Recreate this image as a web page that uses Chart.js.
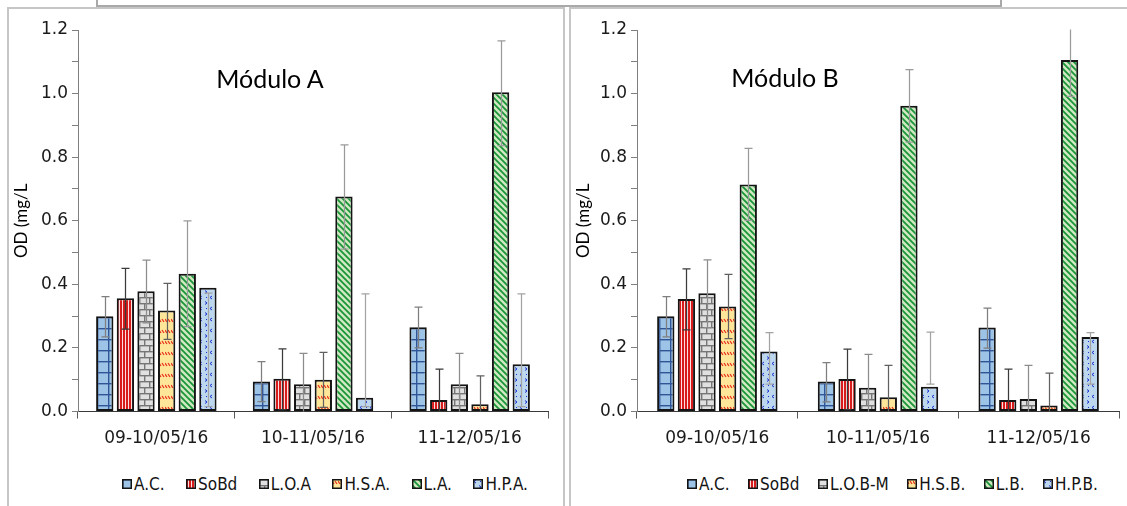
<!DOCTYPE html>
<html>
<head>
<meta charset="utf-8">
<script src="https://cdn.jsdelivr.net/npm/chart.js@4"></script>
<style>
  body { margin: 0; background: #fff; width: 1127px; height: 506px; overflow: hidden; position: relative; }
  .frame { position: absolute; border: 2px solid #c6c6c6; box-sizing: border-box; }
  canvas { position: absolute; }
  .title { position: absolute; font-family: Lato, "Open Sans", sans-serif; font-size: 25px; color: #000; line-height: 1; transform: translate(-50%, -50%); white-space: nowrap; }
  .legend { position: absolute; display: flex; justify-content: space-between; align-items: center; font-family: "DejaVu Sans Condensed", "DejaVu Sans", sans-serif; font-size: 17px; color: #141414; }
  .legend .item { display: flex; align-items: center; }
  .legend canvas { position: static; margin-right: 2px; }
</style>
</head>
<body>
<div class="frame" style="left:96px; top:-6px; width:906px; height:13px; border-color:#a9a9a9;"></div>
<div class="frame" style="left:7px; top:7px; width:558px; height:520px;"></div>
<div class="frame" style="left:569px; top:7px; width:600px; height:520px;"></div>

<canvas id="chartA" width="554" height="442" style="left:9px; top:9px;"></canvas>
<canvas id="chartB" width="556" height="442" style="left:571px; top:9px;"></canvas>

<div class="title" style="left:270px; top:78px;">Módulo A</div>
<div class="title" style="left:785px; top:77px;">Módulo B</div>

<div class="legend" id="legendA" style="left:122px; top:474px; width:406px;"></div>
<div class="legend" id="legendB" style="left:687px; top:474px; width:411px;"></div>

<script>
// sampling dates
const categories = ["09-10/05/16", "10-11/05/16", "11-12/05/16"];
const yTicks = [0, 0.2, 0.4, 0.6, 0.8, 1.0, 1.2];

// Módulo A
const namesA = ["A.C.", "SoBd", "L.O.A", "H.S.A.", "L.A.", "H.P.A."];
const acA   = [0.300, 0.094, 0.265];
const sobdA = [0.356, 0.103, 0.036];
const loA   = [0.378, 0.086, 0.086];
const hsA   = [0.318, 0.100, 0.023];
const laA   = [0.433, 0.676, 1.004];
const hpA   = [0.389, 0.043, 0.149];
const hiA = [
  [0.361, 0.157, 0.328],
  [0.450, 0.197, 0.133],
  [0.476, 0.183, 0.183],
  [0.403, 0.186, 0.112],
  [0.600, 0.839, 1.166],
  [0.372, 0.370, 0.370]
];
const lowA = [
  [0.235, 0.031, 0.200],
  [0.259, 0.006, -0.061],
  [0.279, -0.011, -0.011],
  [0.227, 0.013, -0.066],
  [0.267, 0.511, 0.836],
  [0.015, 0.015, 0.015]
];

// Módulo B
const namesB = ["A.C.", "SoBd", "L.O.B-M", "H.S.B.", "L.B.", "H.P.B."];
const acB   = [0.300, 0.094, 0.264];
const sobdB = [0.354, 0.102, 0.036];
const lobB  = [0.372, 0.075, 0.039];
const hsB   = [0.330, 0.045, 0.019];
const lbB   = [0.714, 0.962, 1.106];
const hpB   = [0.189, 0.078, 0.234];
const hiB = [
  [0.361, 0.154, 0.325],
  [0.449, 0.196, 0.133],
  [0.477, 0.180, 0.145],
  [0.431, 0.145, 0.121],
  [0.828, 1.075, 1.220],
  [0.248, 0.250, 0.248]
];
const lowB = [
  [0.235, 0.030, 0.199],
  [0.257, 0.006, -0.061],
  [0.264, -0.030, -0.067],
  [0.229, -0.055, -0.083],
  [0.601, 0.847, 0.991],
  [0.086, 0.086, 0.086]
];

const errColors = ["#7f7f7f", "#3a3a3a", "#8c8c8c", "#606060", "#9a9a9a", "#a3a3a3"];

// ---- fill patterns ----
function makePattern(w, h, draw) {
  const c = document.createElement("canvas");
  c.width = w; c.height = h;
  const g = c.getContext("2d");
  draw(g, w, h);
  return g.createPattern(c, "repeat");
}

const patterns = [
  // large grid, blue
  makePattern(11, 11, (g, w, h) => {
    g.fillStyle = "#9dc3e6"; g.fillRect(0, 0, w, h);
    g.fillStyle = "#2f5597";
    g.fillRect(0, 0, w, 1.4);
    g.fillRect(0, 0, 1.4, h);
  }),
  // narrow vertical, red
  makePattern(3, 3, (g, w, h) => {
    g.fillStyle = "#d81b1b"; g.fillRect(0, 0, w, h);
    g.fillStyle = "#fcdede"; g.fillRect(2, 0, 1, h);
  }),
  // brick, grey
  makePattern(10, 12, (g, w, h) => {
    g.fillStyle = "#e0e0e0"; g.fillRect(0, 0, w, h);
    g.fillStyle = "#767676";
    g.fillRect(0, 0, w, 1.4);
    g.fillRect(0, 6, w, 1.4);
    g.fillRect(0, 0, 1.4, 6);
    g.fillRect(5, 6, 1.4, 6);
  }),
  // zigzag, red on yellow
  makePattern(6, 11, (g, w, h) => {
    g.fillStyle = "#ffe699"; g.fillRect(0, 0, w, h);
    g.strokeStyle = "#e8321f"; g.lineWidth = 1.3;
    g.beginPath();
    g.moveTo(0, 2); g.lineTo(2, 5);
    g.moveTo(3, 2); g.lineTo(5, 5);
    g.stroke();
  }),
  // wide downward diagonal, green
  makePattern(6, 6, (g, w, h) => {
    g.fillStyle = "#cfe8c0"; g.fillRect(0, 0, w, h);
    g.strokeStyle = "#1a9439"; g.lineWidth = 1.8;
    g.beginPath();
    g.moveTo(-1, -1); g.lineTo(w + 1, h + 1);
    g.moveTo(-1, h - 1); g.lineTo(1, h + 1);
    g.moveTo(w - 1, -1); g.lineTo(w + 1, 1);
    g.stroke();
  }),
  // confetti, blue on light blue
  makePattern(10, 11, (g, w, h) => {
    g.fillStyle = "#bdd7ee"; g.fillRect(0, 0, w, h);
    g.strokeStyle = "#1a30d0"; g.lineWidth = 1;
    g.beginPath();
    g.moveTo(3, 1); g.lineTo(1, 2.5); g.lineTo(3, 4);
    g.moveTo(6, 6.5); g.lineTo(8, 8); g.lineTo(6, 9.5);
    g.stroke();
    g.fillStyle = "#1a30d0";
    g.fillRect(7, 2, 1, 1);
  })
];

// ---- error bars drawn from the high / low arrays ----
const errorBars = {
  id: "errorBars",
  afterDatasetsDraw(chart) {
    const { ctx, chartArea, scales } = chart;
    const y = scales.y;
    ctx.save();
    ctx.beginPath();
    ctx.rect(chartArea.left, chartArea.top - 0.5, chartArea.width, chartArea.height + 0.5);
    ctx.clip();
    chart.data.datasets.forEach((ds, i) => {
      const meta = chart.getDatasetMeta(i);
      ctx.strokeStyle = ds.errColor;
      ctx.lineWidth = 1.25;
      meta.data.forEach((bar, j) => {
        const top = y.getPixelForValue(ds.errHigh[j]);
        const bot = y.getPixelForValue(ds.errLow[j]);
        const x = Math.round(bar.x) + 0.5;
        ctx.beginPath();
        ctx.moveTo(x, top); ctx.lineTo(x, bot);
        ctx.moveTo(x - 4, top); ctx.lineTo(x + 4, top);
        ctx.moveTo(x - 4, bot); ctx.lineTo(x + 4, bot);
        ctx.stroke();
      });
    });
    ctx.restore();
  }
};

const tickFont = { family: "'DejaVu Sans', sans-serif", size: 17 };

function makeChart(id, names, series, hi, low, yWidth, padRight, catPct) {
  const datasets = series.map((vals, i) => ({
    label: names[i],
    data: vals,
    backgroundColor: patterns[i],
    borderColor: "#141414",
    borderWidth: 2,
    borderSkipped: false,
    errHigh: hi[i],
    errLow: low[i],
    errColor: errColors[i]
  }));

  new Chart(document.getElementById(id), {
    type: "bar",
    data: { labels: categories, datasets },
    options: {
      responsive: false,
      animation: false,
      devicePixelRatio: 1,
      categoryPercentage: catPct,
      barPercentage: 0.84,
      layout: { padding: { top: 21, right: padRight, left: 0, bottom: 0 } },
      plugins: { legend: { display: false }, tooltip: { enabled: false } },
      scales: {
        x: {
          grid: { drawOnChartArea: false, offset: true, tickLength: 7, color: "#595959" },
          border: { color: "#3a3a3a", width: 1 },
          ticks: { font: tickFont, color: "#1a1a1a", padding: 10 },
          afterFit(s) { s.height = 39.5; }
        },
        y: {
          min: 0,
          max: 1.2,
          afterBuildTicks(s) {
            // labelled majors every 0.2 plus unlabelled minors between them
            const t = [];
            yTicks.forEach((v, k) => {
              t.push({ value: v });
              if (k < yTicks.length - 1) t.push({ value: (v + yTicks[k + 1]) / 2, minor: true });
            });
            s.ticks = t;
          },
          ticks: {
            autoSkip: false,
            font: tickFont,
            color: "#1a1a1a",
            padding: 4,
            callback(v, idx, ticks) { return ticks[idx].minor ? "" : v.toFixed(1); }
          },
          grid: { drawOnChartArea: false, tickLength: 6, color: "#7f7f7f" },
          border: { color: "#7f7f7f", width: 1 },
          title: {
            display: true,
            text: "OD (mg/L",
            font: { family: "Lato, sans-serif", size: 17 },
            color: "#000",
            padding: { top: 2, bottom: 0 }
          },
          afterFit(s) { s.width = yWidth; }
        }
      }
    },
    plugins: [errorBars]
  });
}

function makeLegend(id, names) {
  const box = document.getElementById(id);
  names.forEach((name, i) => {
    const item = document.createElement("div");
    item.className = "item";
    const c = document.createElement("canvas");
    c.width = 10; c.height = 10;
    const g = c.getContext("2d");
    g.fillStyle = patterns[i];
    g.fillRect(0, 0, 10, 10);
    g.strokeStyle = "#141414";
    g.lineWidth = 1.5;
    g.strokeRect(0.75, 0.75, 8.5, 8.5);
    const span = document.createElement("span");
    span.textContent = name;
    item.appendChild(c);
    item.appendChild(span);
    box.appendChild(item);
  });
}

makeChart("chartA", namesA, [acA, sobdA, loA, hsA, laA, hpA], hiA, lowA, 69, 15, 0.79);
makeChart("chartB", namesB, [acB, sobdB, lobB, hsB, lbB, hpB], hiB, lowB, 66, 8, 0.77);
makeLegend("legendA", namesA);
makeLegend("legendB", namesB);
</script>
</body>
</html>
